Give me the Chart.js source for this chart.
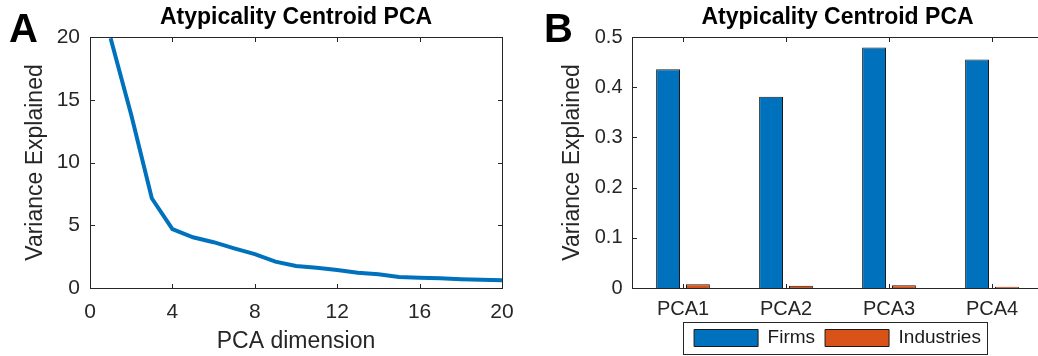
<!DOCTYPE html>
<html>
<head>
<meta charset="utf-8">
<script src="https://cdn.jsdelivr.net/npm/chart.js@4.4.1/dist/chart.umd.min.js"></script>
<style>
  html, body { margin: 0; padding: 0; background: #fff; overflow: hidden; }
  body { width: 1038px; height: 356px; position: relative; }
  canvas { position: absolute; top: 0; }
  #chartA { left: 0; }
  #chartB { left: 520px; }
  .panel-tag {
    position: absolute; top: 8px; margin: 0;
    font: bold 40px 'Liberation Sans', Arial, sans-serif; line-height: 40px; color: #000;
  }
</style>
</head>
<body>
<canvas id="chartA" width="520" height="356"></canvas>
<canvas id="chartB" width="540" height="356"></canvas>
<div class="panel-tag" style="left:9px">A</div>
<div class="panel-tag" style="left:544px">B</div>
<script>
//* DATOS
const pcaDims = [1, 2, 3, 4, 5, 6, 7, 8, 9, 10, 11, 12, 13, 14, 15, 16, 17, 18, 19, 20];
const varianceExplained = [19.9, 13.8, 7.15, 4.7, 4.04, 3.65, 3.16, 2.7, 2.1, 1.75, 1.62, 1.44, 1.22, 1.1, 0.88, 0.82, 0.77, 0.7, 0.66, 0.62];

const pcaLabels = ['PCA1', 'PCA2', 'PCA3', 'PCA4'];
const firmsVar = [0.436, 0.381, 0.479, 0.455];
const industriesVar = [0.0073, 0.0047, 0.0053, 0.0027];

const chartTitle = 'Atypicality Centroid PCA';
const yTitle = 'Variance Explained';
const xTitleA = 'PCA dimension';

Chart.defaults.font.family = "'Liberation Sans', Arial, sans-serif";
Chart.defaults.color = '#262626';

// caja del eje con marcas hacia dentro (estilo MATLAB)
const axisBox = {
    id: 'axisBox',
    afterDraw(chart) {
        const { ctx, chartArea: a, scales: { x, y } } = chart;
        const L = Math.round(a.left) + 0.5, R = Math.round(a.right) + 0.5;
        const T = Math.round(a.top) + 0.5, B = Math.round(a.bottom) + 0.5;
        const len = 4.5;
        ctx.save();
        ctx.strokeStyle = '#262626';
        ctx.lineWidth = 1;
        ctx.beginPath();
        x.ticks.forEach((t, i) => {
            const px = Math.round(x.getPixelForTick(i)) + 0.5;
            ctx.moveTo(px, B); ctx.lineTo(px, B - len);
            ctx.moveTo(px, T); ctx.lineTo(px, T + len);
        });
        y.ticks.forEach((t, i) => {
            const py = Math.round(y.getPixelForTick(i)) + 0.5;
            ctx.moveTo(L, py); ctx.lineTo(L + len, py);
            ctx.moveTo(R, py); ctx.lineTo(R - len, py);
        });
        ctx.stroke();
        ctx.strokeRect(L, T, R - L, B - T);
        ctx.restore();
    }
};

// marco de la leyenda
const legendFrame = {
    id: 'legendFrame',
    afterDraw(chart) {
        const boxes = chart.legend && chart.legend.legendHitBoxes;
        if (!boxes || !boxes.length) return;
        const first = boxes[0], last = boxes[boxes.length - 1];
        const left = Math.round(first.left - 11) + 0.5;
        const right = Math.round(last.left + last.width + 6) + 0.5;
        const top = Math.round(first.top - 6.5) + 0.5;
        const bottom = Math.round(first.top + first.height + 6.5) + 0.5;
        const { ctx } = chart;
        ctx.save();
        ctx.strokeStyle = '#262626';
        ctx.lineWidth = 1;
        ctx.strokeRect(left, top, right - left, bottom - top);
        ctx.restore();
    }
};

// tamaño fijo de los ejes, sin relleno extra por las etiquetas
const fixHeight = (h) => (s) => { s.height = h; s.paddingLeft = 0; s.paddingRight = 0; };
const fixWidth = (w) => (s) => { s.width = w; s.paddingTop = 0; s.paddingBottom = 0; };

const titleOpts = {
    display: true,
    text: chartTitle,
    color: '#000',
    fullSize: false,
    font: { size: 23, weight: 'bold' },
    padding: { top: 4, bottom: 5.4 }
};

new Chart(document.getElementById('chartA'), {
    type: 'line',
    data: {
        datasets: [{
            data: pcaDims.map((d, i) => ({ x: d, y: varianceExplained[i] })),
            borderColor: '#0072BD',
            borderWidth: 4,
            pointRadius: 0,
            tension: 0
        }]
    },
    options: {
        responsive: false,
        animation: false,
        layout: { padding: { left: 0, right: 18, top: 0, bottom: 0 } },
        plugins: {
            legend: { display: false },
            tooltip: { enabled: false },
            title: titleOpts
        },
        scales: {
            x: {
                type: 'linear', min: 0, max: 20,
                ticks: { stepSize: 4, padding: 12, font: { size: 21 }, maxRotation: 0 },
                grid: { display: false, drawTicks: false },
                border: { display: false },
                title: { display: true, text: xTitleA, font: { size: 23 }, padding: { top: 0, bottom: 1 } },
                afterFit: fixHeight(68)
            },
            y: {
                min: 0, max: 20,
                ticks: { stepSize: 5, padding: 10, font: { size: 21 } },
                grid: { display: false, drawTicks: false },
                border: { display: false },
                title: { display: true, text: yTitle, font: { size: 23 }, padding: { top: 21.7, bottom: 0 } },
                afterFit: fixWidth(90)
            }
        }
    },
    plugins: [axisBox]
});

new Chart(document.getElementById('chartB'), {
    type: 'bar',
    data: {
        labels: pcaLabels,
        datasets: [{
            label: 'Firms',
            data: firmsVar,
            backgroundColor: '#0072BD',
            borderColor: '#1a1a1a',
            borderWidth: 1
        }, {
            label: 'Industries',
            data: industriesVar,
            backgroundColor: '#D95319',
            borderColor: '#1a1a1a',
            borderWidth: 1
        }]
    },
    options: {
        responsive: false,
        animation: false,
        categoryPercentage: 0.58,
        barPercentage: 0.8,
        layout: { padding: { left: 0, right: 16.5, top: 0, bottom: -1.5 } },
        plugins: {
            tooltip: { enabled: false },
            title: titleOpts,
            legend: {
                position: 'bottom',
                fullSize: false,
                labels: {
                    color: '#1a1a1a',
                    font: { size: 19 },
                    boxWidth: 64,
                    boxHeight: 17,
                    padding: 10
                }
            }
        },
        scales: {
            x: {
                ticks: { padding: 9.5, font: { size: 20 }, maxRotation: 0 },
                grid: { display: false, drawTicks: false },
                border: { display: false },
                afterFit: fixHeight(30.5)
            },
            y: {
                min: 0, max: 0.5,
                ticks: { stepSize: 0.1, padding: 9, font: { size: 20 } },
                grid: { display: false, drawTicks: false },
                border: { display: false },
                title: { display: true, text: yTitle, font: { size: 23 }, padding: { top: 38.7, bottom: 0 } },
                afterFit: fixWidth(111.5)
            }
        }
    },
    plugins: [axisBox, legendFrame]
});
</script>
</body>
</html>
